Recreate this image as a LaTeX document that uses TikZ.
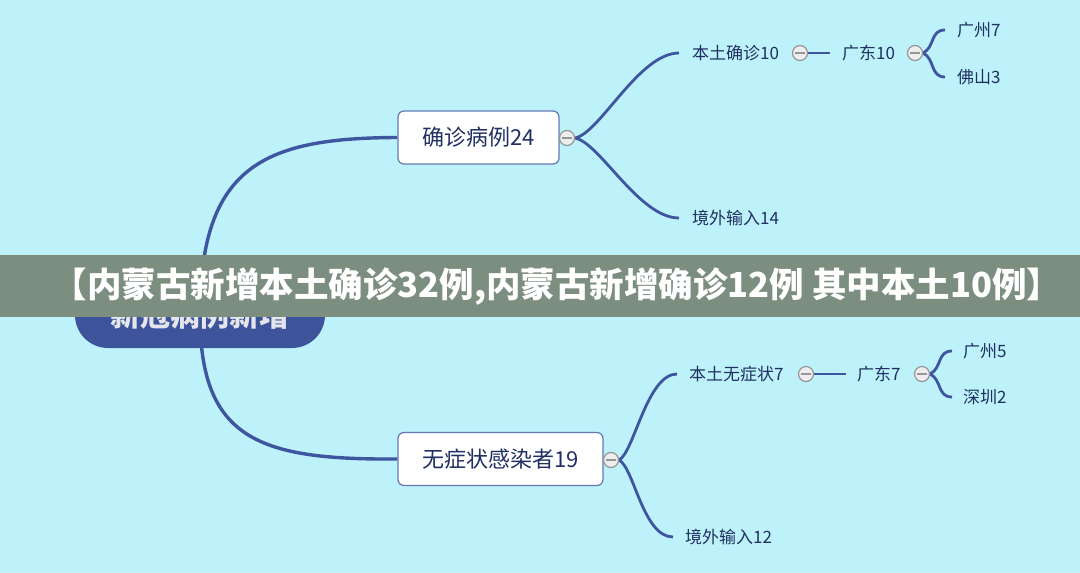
\documentclass[tikz,border=0pt]{standalone}
\usepackage{fontspec}
\newfontfamily\cjk{Noto Sans CJK SC}
\definecolor{bg}{RGB}{189,242,250}
\definecolor{ln}{RGB}{62,86,160}
\definecolor{bd}{RGB}{100,120,180}
\definecolor{tx}{RGB}{32,48,98}
\definecolor{ban}{RGB}{124,142,127}
\definecolor{pil}{RGB}{61,83,155}
\definecolor{tg}{RGB}{150,150,150}
\pgfdeclarelayer{background}
\pgfdeclarelayer{front}
\pgfsetlayers{background,main,front}
\tikzset{
  mainln/.style={draw=ln,line width=3.4pt},
  brln/.style={draw=ln,line width=2.8pt},
  box/.style={draw=bd,line width=1.2pt,fill=white,rounded corners=6pt,font=\cjk\fontsize{22}{22}\selectfont,text=tx,inner sep=0pt},
  pillnode/.style={fill=pil,rounded corners=33pt,minimum width=250pt,minimum height=66pt,inner sep=0pt,font=\cjk\bfseries\fontsize{30}{30}\selectfont,text={rgb,255:red,228;green,230;blue,236}},
  leaf/.style={anchor=west,inner sep=0pt,font=\cjk\fontsize{17}{17}\selectfont,text=tx},
  tog/.style={circle,draw=tg,line width=1.2pt,fill={rgb,255:red,238;green,238;blue,238},minimum size=15pt,inner sep=0pt,
    path picture={\draw[tg,line width=1.3pt] ([xshift=-5pt]path picture bounding box.center) -- ([xshift=5pt]path picture bounding box.center);}},
}
\begin{document}
\begin{tikzpicture}[x=1pt,y=-1pt]
\useasboundingbox (0,0) rectangle (1080,573);
\begin{pgfonlayer}{background}
\fill[bg] (0,0) rectangle (1080,573);
\end{pgfonlayer}
% main nodes
\node[pillnode] (root) at (200,315) {新冠病例新增};
\node[box,minimum width=161pt,minimum height=53pt] (c24) at (478.5,137.5) {确诊病例24};
\node[box,minimum width=205pt,minimum height=53pt] (w19) at (500.5,459) {无症状感染者19};
% toggles
\node[tog] (t1) at (567,138) {};
\node[tog] (t2) at (611,460) {};
\node[tog] (t3) at (800,53) {};
\node[tog] (t4) at (915,53) {};
\node[tog] (t5) at (806,374) {};
\node[tog] (t6) at (922,374) {};
% leaves
\node[leaf] (bt10) at (692,53) {本土确诊10};
\node[leaf] (jw14) at (692,218) {境外输入14};
\node[leaf] (gd10) at (842,53) {广东10};
\node[leaf] (gz7) at (957,30) {广州7};
\node[leaf] (fs3) at (957,77) {佛山3};
\node[leaf] (bw7) at (689,374) {本土无症状7};
\node[leaf] (jw12) at (685,537) {境外输入12};
\node[leaf] (gd7) at (857,374) {广东7};
\node[leaf] (gz5) at (963,351) {广州5};
\node[leaf] (sz2) at (963,397) {深圳2};
\begin{pgfonlayer}{background}
\draw[mainln] (root.center) .. controls (200,165) and (265,138) .. (c24.west);
\draw[mainln] (root.center) .. controls (200,440) and (260,460) .. (w19.west);
\draw[brln] (t1.east) .. controls +(25,-5) and +(-40,0) .. ([xshift=-13pt]bt10.west);
\draw[brln] (t1.east) .. controls +(25,5) and +(-40,0) .. ([xshift=-13pt]jw14.west);
\draw[brln] (t3.east) -- ([xshift=-12pt]gd10.west);
\draw[brln] (t4.east) .. controls +(12,-6) and +(-15,0) .. ([xshift=-12pt]gz7.west);
\draw[brln] (t4.east) .. controls +(12,6) and +(-15,0) .. ([xshift=-12pt]fs3.west);
\draw[brln] (t2.east) .. controls +(15,-8) and +(-30,0) .. ([xshift=-12pt]bw7.west);
\draw[brln] (t2.east) .. controls +(15,8) and +(-30,0) .. ([xshift=-12pt]jw12.west);
\draw[brln] (t5.east) -- ([xshift=-11pt]gd7.west);
\draw[brln] (t6.east) .. controls +(12,-6) and +(-15,0) .. ([xshift=-11pt]gz5.west);
\draw[brln] (t6.east) .. controls +(12,6) and +(-15,0) .. ([xshift=-11pt]sz2.west);
\end{pgfonlayer}
\begin{pgfonlayer}{front}
\node[fill=ban,minimum width=1080pt,minimum height=62pt,inner sep=0pt] (banner) at (540,286) {};
\node[inner sep=0pt,text=white,font=\cjk\bfseries\fontsize{34.5}{34.5}\selectfont] (btext) at (557,287) {【内蒙古新增本土确诊32例,内蒙古新增确诊12例 其中本土10例】};
\end{pgfonlayer}
\end{tikzpicture}
\end{document}
